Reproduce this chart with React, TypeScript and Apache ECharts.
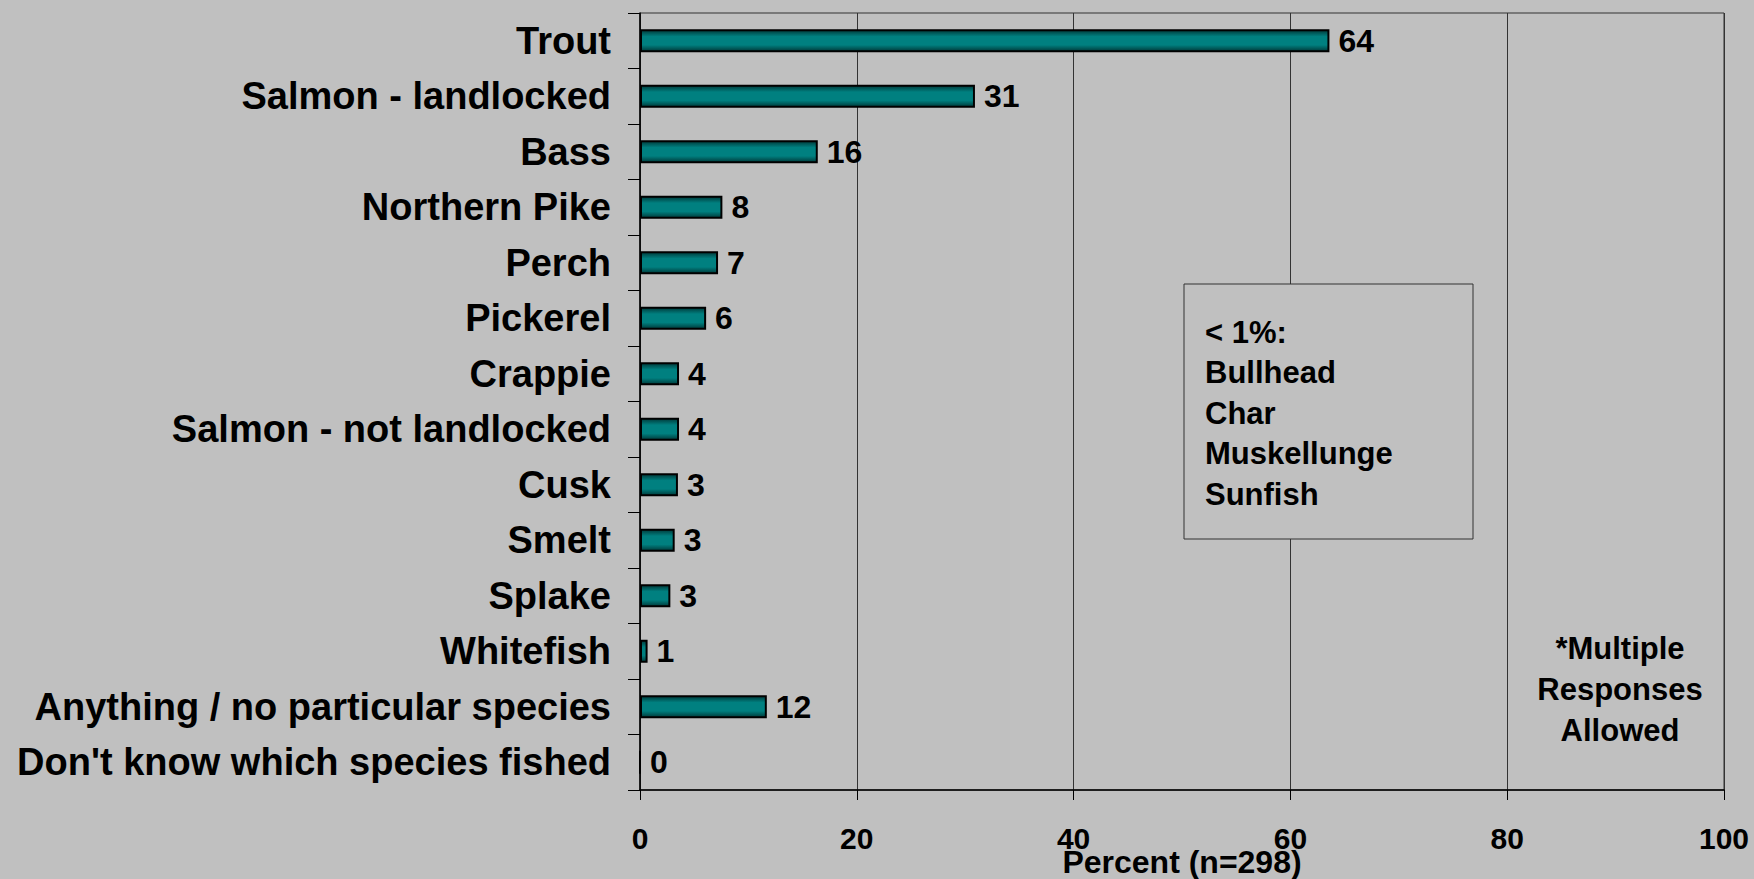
import React, { useEffect, useRef } from "react";
import * as echarts from "echarts";

const categories = [
  "Trout",
  "Salmon - landlocked",
  "Bass",
  "Northern Pike",
  "Perch",
  "Pickerel",
  "Crappie",
  "Salmon - not landlocked",
  "Cusk",
  "Smelt",
  "Splake",
  "Whitefish",
  "Anything / no particular species",
  "Don't know which species fished",
];
const values = [63.6, 30.9, 16.4, 7.6, 7.2, 6.1, 3.6, 3.6, 3.5, 3.2, 2.8, 0.7, 11.7, 0];
const valueLabels = ["64", "31", "16", "8", "7", "6", "4", "4", "3", "3", "3", "1", "12", "0"];
const xTicks = [0, 20, 40, 60, 80, 100];
const noteLines = ["< 1%:", "Bullhead", "Char", "Muskellunge", "Sunfish"];
const footLines = ["*Multiple", "Responses", "Allowed"];

const FONT = "'Liberation Sans', Arial, Helvetica, sans-serif";

export default function App() {
  const ref = useRef<HTMLDivElement>(null);
  useEffect(() => {
    if (!ref.current) return;
    const chart = echarts.init(ref.current, null, { renderer: "svg", width: 1754, height: 879 });
    const option: any = {
      animation: false,
      backgroundColor: "#C0C0C0",
      grid: {
        left: 640,
        right: 30,
        top: 13,
        bottom: 89,
        containLabel: false,
        outerBoundsMode: "none",
        show: true,
        borderColor: "#333333",
        borderWidth: 1,
        backgroundColor: "transparent",
      },
      xAxis: {
        type: "value",
        min: xTicks[0],
        max: xTicks[xTicks.length - 1],
        interval: 20,
        name: "Percent (n=298)",
        nameLocation: "middle",
        nameGap: 56,
        nameMoveOverlap: false,
        nameTextStyle: { fontFamily: FONT, fontWeight: "bold", fontSize: 32, color: "#000" },
        axisLine: { show: true, lineStyle: { color: "#000", width: 1.5 } },
        axisTick: { show: true, length: 10, lineStyle: { color: "#000", width: 1 } },
        axisLabel: { margin: 33, fontFamily: FONT, fontWeight: "bold", fontSize: 30, color: "#000" },
        splitLine: { show: true, lineStyle: { color: "#333333", width: 1 } },
      },
      yAxis: {
        type: "category",
        data: categories,
        inverse: true,
        axisLine: { show: true, lineStyle: { color: "#000", width: 1.5 } },
        axisTick: { show: true, length: 12, lineStyle: { color: "#000", width: 1 } },
        axisLabel: { margin: 29, fontFamily: FONT, fontWeight: "bold", fontSize: 38, color: "#000" },
        splitLine: { show: false },
      },
      series: [
        {
          type: "bar",
          data: values,
          barWidth: 23,
          itemStyle: {
            color: new echarts.graphic.LinearGradient(0, 0, 0, 1, [
              { offset: 0, color: "#003a3a" },
              { offset: 0.3, color: "#008080" },
              { offset: 0.7, color: "#008080" },
              { offset: 1, color: "#003a3a" },
            ]),
            borderColor: "#000",
            borderWidth: 2,
          },
          label: {
            show: true,
            position: "right",
            distance: 9,
            formatter: (p: any) => valueLabels[p.dataIndex],
            fontFamily: FONT,
            fontWeight: "bold",
            fontSize: 32,
            color: "#000",
          },
        },
      ],
      graphic: [
        {
          type: "rect",
          shape: { x: 1184, y: 284, width: 289, height: 255 },
          style: { fill: "#C0C0C0", stroke: "#333333", lineWidth: 1 },
          z: 10,
        },
        ...noteLines.map((t, i) => ({
          type: "text",
          x: 1205,
          y: 332 + i * 40.5,
          z: 11,
          style: {
            text: t,
            fontFamily: FONT,
            fontWeight: "bold",
            fontSize: 31,
            fill: "#000",
            textVerticalAlign: "middle",
            verticalAlign: "middle",
          },
        })),
        ...footLines.map((t, i) => ({
          type: "text",
          x: 1620,
          y: 648 + i * 41,
          z: 11,
          style: {
            text: t,
            fontFamily: FONT,
            fontWeight: "bold",
            fontSize: 31,
            fill: "#000",
            align: "center",
            textAlign: "center",
            verticalAlign: "middle",
            textVerticalAlign: "middle",
          },
        })),
      ],
    };
    chart.setOption(option);
    return () => chart.dispose();
  }, []);
  return (
    <div
      ref={ref}
      style={{ position: "absolute", left: 0, top: 0, width: 1754, height: 879 }}
    />
  );
}
